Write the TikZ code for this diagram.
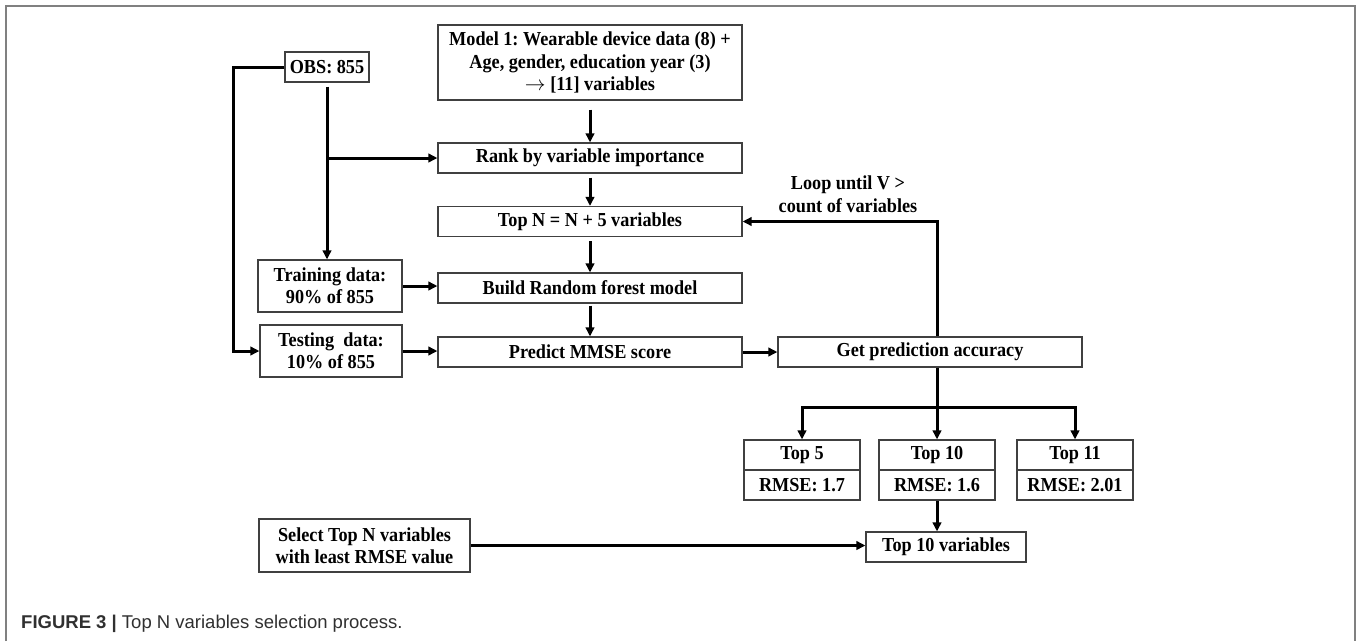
\documentclass[tikz,border=0pt]{standalone}
\usepackage{fontspec}
\setmainfont{Liberation Serif}[FakeStretch=0.92]
\setsansfont{Liberation Sans}
\usetikzlibrary{arrows.meta}
\definecolor{framegray}{HTML}{808080}
\definecolor{boxgray}{HTML}{404040}
\definecolor{capgray}{HTML}{303030}
\frenchspacing
\tikzset{>/.tip={Triangle[length=9pt,width=8.5pt]},
  box/.style={draw=boxgray, line width=1.2pt, inner sep=0pt, align=center,
    font=\fontsize{19.8}{22.5}\selectfont\bfseries},
  wide/.style={box, minimum width=304pt, minimum height=30pt},
  cell/.style={box, minimum width=116pt, minimum height=30pt},
  arr/.style={line width=3pt, ->}}

\begin{document}
\begin{tikzpicture}[x=1pt,y=-1pt]
\useasboundingbox (0,0) rectangle (1357,641);
\draw[framegray, line width=2pt] (6,641) -- (6,6) -- (1355,6) -- (1355,641);

\node[box, minimum width=84pt, minimum height=30pt] (obs) at (327,67) {OBS: 855};
\node[box, minimum width=304pt, minimum height=75pt] (model) at (590,62.5)
  {Model 1: Wearable device data (8) +\\Age, gender, education year (3)\\$\rightarrow$ [11] variables};
\node[wide] (rank) at (590,158) {Rank by variable importance};
\node[wide] (topn) at (590,221.5) {Top N = N + 5 variables};
\node[wide] (build) at (590,288) {Build Random forest model};
\node[wide] (predict) at (590,352) {Predict MMSE score};
\node[box, minimum width=144pt, minimum height=52pt] (train) at (330,286) {Training data:\\90\% of 855};
\node[box, minimum width=142pt, minimum height=52pt] (test) at (331,351) {Testing~ data:\\10\% of 855};
\node[wide] (get) at (930,352) {Get prediction accuracy};
\node[align=center, inner sep=0pt, font=\fontsize{19.8}{22.5}\selectfont\bfseries] (loop) at (848,194)
  {Loop until V >\\count of variables};

\node[cell] (top5) at (802,455) {Top 5};
\node[cell] (rmse5) at (802,485) {RMSE: 1.7};
\node[cell] (top10) at (937,455) {Top 10};
\node[cell] (rmse10) at (937,485) {RMSE: 1.6};
\node[cell] (top11) at (1075,455) {Top 11};
\node[cell] (rmse11) at (1075,485) {RMSE: 2.01};
\node[box, minimum width=160pt, minimum height=30pt] (tenvar) at (946,547) {Top 10 variables};
\node[box, minimum width=211pt, minimum height=53pt] (select) at (364.5,545.5)
  {Select Top N variables\\with least RMSE value};

\node[anchor=base west, inner sep=0pt, text=capgray, font=\sffamily\fontsize{18.5}{20}\selectfont] (cap) at (21,628)
  {\textbf{FIGURE 3 |} Top N variables selection process.};

\coordinate (lft) at (233,67);
\coordinate (fork) at (937,407);

\draw[arr] (obs.west) -- (lft) |- (test.west);
\draw[arr, shorten <=4pt] (obs.south) -- (obs.south |- train.north);
\draw[arr] (obs.south |- rank.west) -- (rank.west);
\draw[arr, shorten <=9pt] (model) -- (rank);
\draw[arr, shorten <=4pt] (rank) -- (topn);
\draw[arr, shorten <=4pt] (topn) -- (build);
\draw[arr, shorten <=2pt] (build) -- (predict);
\draw[arr] (train.east) -- (train.east -| build.west);
\draw[arr] (test.east) -- (test.east -| predict.west);
\draw[arr] (predict) -- (get);
\draw[arr] (fork |- get.north) |- (topn.east);
\draw[line width=3pt] (fork |- get.south) -- (fork);
\draw[arr] (fork) -- (top10);
\draw[arr] (fork) -| (top5);
\draw[arr] (fork) -| (top11);
\draw[arr] (rmse10.south) -- (rmse10.south |- tenvar.north);
\draw[arr] (select.east) -- (select.east -| tenvar.west);
\end{tikzpicture}
\end{document}
